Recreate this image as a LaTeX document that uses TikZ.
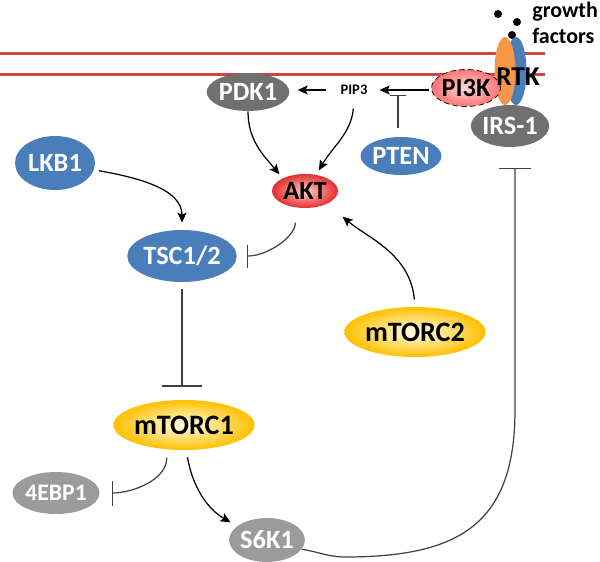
\documentclass[tikz,border=0pt]{standalone}
\usepackage{fontspec}
\setmainfont{Carlito}
\usetikzlibrary{shapes.geometric,arrows.meta}
\definecolor{memb}{RGB}{200,72,70}
\definecolor{blueP}{RGB}{74,126,187}
\definecolor{grayD}{RGB}{112,112,112}
\definecolor{grayL}{RGB}{155,155,155}
\definecolor{rtkO}{RGB}{247,150,70}
\definecolor{goldP}{RGB}{255,192,0}
\definecolor{redP}{RGB}{228,45,45}
\tikzset{
  prot/.style={ellipse,inner sep=0pt,font=\fontsize{15}{17}\bfseries\selectfont},
  bluebox/.style={prot,fill=blueP,text=white},
  darkbox/.style={prot,fill=grayD,text=white},
  lightbox/.style={prot,fill=grayL,text=white},
  mtorbox/.style={prot,shading=radial,inner color=yellow!8,outer color=goldP,minimum width=19mm,minimum height=10mm,font=\fontsize{16}{18}\bfseries\selectfont},
  arr/.style={line width=0.7pt,-{Stealth[length=2mm,width=1.8mm,inset=0.4mm]}},
  inh/.style={line width=0.7pt,black!75,-{Bar[width=#1]}},
  inh/.default=6mm
}
\begin{document}
\begin{tikzpicture}[x=0.02cm,y=0.02cm]
\useasboundingbox (0,0) rectangle (600,-562);
%membrane
\draw[memb,line width=0.6mm](0,-53)--(545,-53);
\draw[memb,line width=0.6mm](0,-74)--(545,-74);
%receptor
\fill(498,-14)circle(4) (517,-22)circle(4) (512,-35)circle(4);
\node[anchor=base west,inner sep=0pt,font=\fontsize{12.5}{15}\bfseries\selectfont](gr) at (532,-17){growth};
\node[anchor=base west,inner sep=0pt,font=\fontsize{12.5}{15}\bfseries\selectfont](fa) at (532,-43){factors};
\node[ellipse,fill=blueP,minimum width=4.2mm,minimum height=13.6mm](rtkb) at (516,-71){};
\node[ellipse,fill=rtkO,minimum width=4.2mm,minimum height=13.6mm](rtko) at (505,-71){};
\node[ellipse,draw=black,densely dashed,thin,shading=radial,inner color=red!15,outer color=red!55!white,inner sep=0pt,minimum width=11.6mm,minimum height=7.4mm,font=\fontsize{15}{17}\bfseries\selectfont](pik) at (466,-88){PI3K};
\node[font=\fontsize{15.5}{17}\bfseries\selectfont](rtk) at (518,-77){RTK};
\node[darkbox,minimum width=13.2mm,minimum height=8.4mm](irs) at (510,-126){IRS-1};
%
\node[darkbox,minimum width=14.4mm,minimum height=7.6mm](pdk) at (248,-92){PDK1};
\node[font=\fontsize{8.3}{9}\bfseries\selectfont](pip) at (354,-90){PIP3};
\node[bluebox,minimum width=14.4mm,minimum height=7.6mm](pten) at (401,-156){PTEN};
\node[prot,shading=radial,inner color=red!20,outer color=redP,minimum width=13.2mm,minimum height=6.8mm](akt) at (305,-191){AKT};
\node[bluebox,minimum width=16mm,minimum height=10.8mm](lkb) at (55,-163){LKB1};
\node[bluebox,minimum width=17.2mm,minimum height=10.4mm](tsc) at (182,-256){TSC1/2};
\node[mtorbox](mt1) at (184,-425){mTORC1};
\node[mtorbox](mt2) at (415,-332){mTORC2};
\node[lightbox,minimum width=15.6mm,minimum height=8.4mm,font=\fontsize{13.5}{15}\bfseries\selectfont](ebp) at (56,-493){4EBP1};
\node[lightbox,minimum width=14.8mm,minimum height=8.8mm](s6k) at (267,-540){S6K1};
\coordinate(ptb) at (398,-95);
\coordinate(irb) at (515,-168);
\coordinate(low) at (345,-557);
\coordinate(bend) at (515,-410);
%links
\draw[arr,shorten <=1.6mm,shorten >=1.6mm](pip.west)--(pip.west-|pdk.east);
\draw[arr,shorten <=0.4mm,shorten >=1.2mm](pip.east-|pik.west)--(pip.east);
\draw[inh=3.4mm,shorten <=1.8mm](pten.north-|ptb)--(ptb);
\draw[arr,shorten >=1mm](pdk.south) to[out=-90,in=130](akt.150);
\draw[arr,shorten <=1.5mm,shorten >=1mm](pip.south) to[out=-95,in=60](akt.55);
\draw[arr,shorten <=1mm,shorten >=1.4mm](lkb.-10) to[out=-10,in=90](tsc.north);
\draw[inh=4.6mm,shorten <=3mm,shorten >=2mm](akt.240) to[out=-90,in=0](tsc.east);
\draw[inh=8.2mm,shorten <=1.4mm,shorten >=2.6mm](tsc.south)--(tsc.south|-mt1.north);
\draw[inh=5mm,shorten <=1.6mm,shorten >=2.4mm](mt1.-125) to[out=-90,in=0](ebp.east);
\draw[arr,shorten <=1.4mm,shorten >=1.5mm](mt1.-85) to[out=-80,in=150](s6k.155);
\draw[arr,shorten <=1.4mm,shorten >=4mm](mt2.north) to[out=95,in=-40](akt.-30);
\draw[inh=6.6mm](s6k.-15) to[out=-8,in=180](low) to[out=0,in=-90,looseness=1.3](bend)--(irb);
\end{tikzpicture}
\end{document}
